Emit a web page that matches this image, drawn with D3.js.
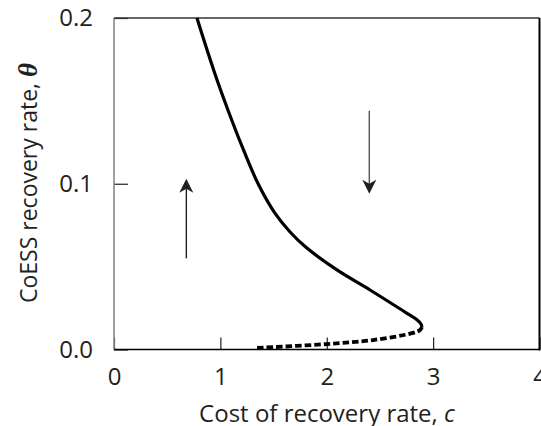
<!DOCTYPE html>
<html>
<head>
<meta charset="utf-8">
<script src="https://cdn.jsdelivr.net/npm/d3@7"></script>
<style>
  body { margin: 0; background: #fff; }
  text { font-family: "Open Sans", "Noto Sans", sans-serif; fill: #231f20; }
</style>
</head>
<body>
<svg id="chart" width="541" height="426"></svg>
<script>
// stable branch (solid) and unstable branch (dashed), [c, theta]
const stableBranch = [
    [0.780, 0.2000], [0.854, 0.1849], [0.959, 0.1644], [1.071, 0.1445], [1.206, 0.1222],
    [1.356, 0.0998], [1.511, 0.0824], [1.655, 0.0709], [1.802, 0.0618], [2.096, 0.0480],
    [2.407, 0.0359], [2.736, 0.0226], [2.839, 0.0184], [2.886, 0.0154], [2.895, 0.0136]
];
const unstableBranch = [
    [2.895, 0.0136], [2.877, 0.0118], [2.811, 0.0100], [2.435, 0.0057], [2.002, 0.0033], [1.344, 0.0009]
];
// direction arrows: from [c, theta] to [c, theta]
const arrows = [
    {from: [0.68, 0.055], to: [0.68, 0.103], color: '#231f20'},
    {from: [2.40, 0.144], to: [2.40, 0.094], color: '#555'}
];
const xTicks = [0, 1, 2, 3, 4];
const yTicks = [0.0, 0.1, 0.2];
const yTickLabels = ['0.0', '0.1', '0.2'];

const svg = d3.select('#chart');
const x = d3.scaleLinear().domain([0, 4]).range([114, 539.5]);
const y = d3.scaleLinear().domain([0, 0.2]).range([349.5, 18]);

// x axis labels + inward ticks
const xAxis = svg.append('g').attr('transform', 'translate(0,' + y(0) + ')')
    .call(d3.axisBottom(x).tickValues(xTicks).tickFormat(d3.format('d'))
        .tickSizeInner(-12).tickSizeOuter(0).tickPadding(18));
xAxis.select('.domain').remove();
xAxis.selectAll('line').attr('stroke', '#231f20').attr('stroke-width', 1.2);
xAxis.selectAll('text').style('font-size', '24px').attr('fill', '#231f20');

const yAxis = svg.append('g').attr('transform', 'translate(' + x(0) + ',0)')
    .call(d3.axisLeft(y).tickValues(yTicks).tickFormat((d, i) => yTickLabels[i])
        .tickSizeInner(-14).tickSizeOuter(0).tickPadding(21));
yAxis.select('.domain').remove();
yAxis.selectAll('line').attr('stroke', '#231f20').attr('stroke-width', 1.2);
yAxis.selectAll('text').style('font-size', '24px').attr('fill', '#231f20');

// frame
svg.append('line').attr('x1', x(0)).attr('x2', x(0)).attr('y1', y(0.2)).attr('y2', y(0))
    .attr('stroke', '#888').attr('stroke-width', 1.6);
svg.append('line').attr('x1', x(0)).attr('x2', x(4)).attr('y1', y(0.2)).attr('y2', y(0.2))
    .attr('stroke', '#333').attr('stroke-width', 1.4);
svg.append('line').attr('x1', x(4)).attr('x2', x(4)).attr('y1', y(0.2)).attr('y2', y(0) + 1)
    .attr('stroke', '#000').attr('stroke-width', 2);
svg.append('line').attr('x1', x(0)).attr('x2', x(4)).attr('y1', y(0)).attr('y2', y(0))
    .attr('stroke', '#000').attr('stroke-width', 1.6);

// curves
const line = d3.line().x(d => x(d[0])).y(d => y(d[1])).curve(d3.curveCatmullRom.alpha(0.5));
svg.append('path').datum(stableBranch).attr('d', line)
    .attr('fill', 'none').attr('stroke', '#000').attr('stroke-width', 3.2);
svg.append('path').datum(unstableBranch).attr('d', line)
    .attr('fill', 'none').attr('stroke', '#000').attr('stroke-width', 3.8)
    .attr('stroke-dasharray', '6.5,3');

// arrows
arrows.forEach(a => {
    const x1 = x(a.from[0]), y1 = y(a.from[1]);
    const x2 = x(a.to[0]), y2 = y(a.to[1]);
    const dir = Math.sign(y2 - y1);
    svg.append('line').attr('x1', x1).attr('x2', x2).attr('y1', y1).attr('y2', y2 - dir * 8)
        .attr('stroke', a.color).attr('stroke-width', 1.4);
    const hw = 7, hl = 14, notch = 4;
    svg.append('path')
        .attr('d', 'M' + x2 + ',' + y2 +
            'L' + (x2 + hw) + ',' + (y2 - dir * hl) +
            'L' + x2 + ',' + (y2 - dir * (hl - notch)) +
            'L' + (x2 - hw) + ',' + (y2 - dir * hl) + 'Z')
        .attr('fill', '#231f20');
});

// axis titles
const xTitle = svg.append('text').attr('x', 327).attr('y', 422)
    .attr('text-anchor', 'middle').style('font-size', '24px');
xTitle.append('tspan').text('Cost of recovery rate, ');
xTitle.append('tspan').style('font-style', 'italic').text('c');

const yTitle = svg.append('text')
    .attr('transform', 'translate(37,183) rotate(-90)')
    .attr('text-anchor', 'middle').style('font-size', '23px');
yTitle.append('tspan').text('CoESS recovery rate, ');
yTitle.append('tspan').style('font-style', 'italic').style('font-weight', 'bold')
    .style('font-family', '"Liberation Serif", "DejaVu Serif", serif').style('font-size', '27px').text('θ');
</script>
</body>
</html>
